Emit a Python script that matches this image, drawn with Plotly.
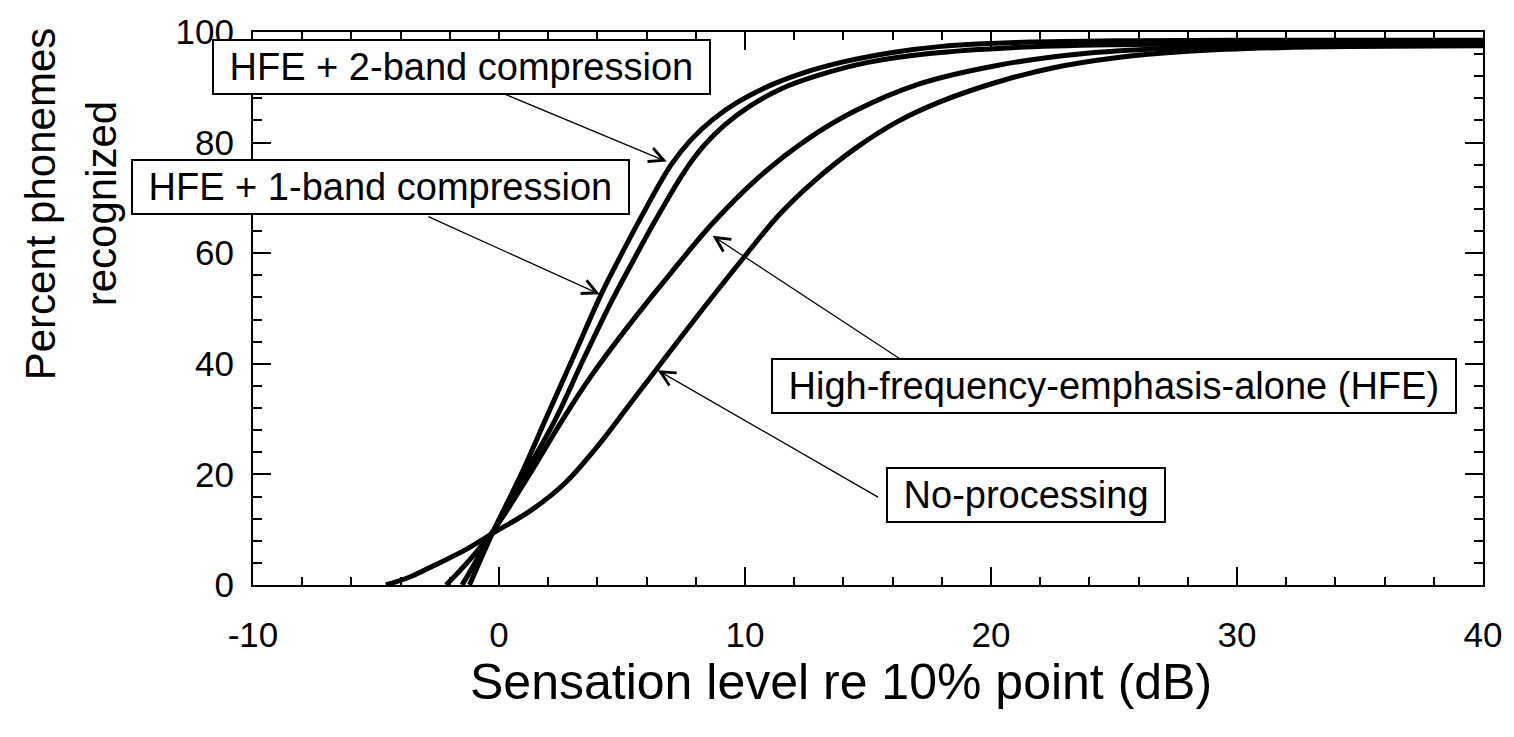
import plotly.graph_objects as go

# ---- data ----
x_2band = [-1.2, -0.2, 0.9, 1.9, 3.0, 4.2, 5.0, 5.8, 7.0, 7.8, 8.7, 9.7, 11.0, 12.5, 14.0, 16.0, 18.0, 21.0, 25.0, 30.0, 40.0]
y_2band = [0.0, 10.0, 20.0, 30.0, 41.0, 53.0, 60.0, 66.7, 76.0, 80.5, 84.2, 87.3, 90.3, 92.8, 94.6, 96.3, 97.4, 98.1, 98.4, 98.5, 98.5]

x_1band = [-1.5, -0.2, 1.05, 2.3, 3.4, 4.6, 5.5, 6.3, 7.5, 8.3, 9.2, 10.2, 11.5, 13.0, 15.0, 17.5, 21.0, 25.0, 30.0, 40.0]
y_1band = [0.0, 10.0, 20.0, 30.0, 40.5, 51.5, 59.0, 65.5, 74.5, 79.3, 83.3, 86.6, 89.8, 92.2, 94.5, 96.1, 97.2, 97.7, 97.9, 98.0]

x_hfe = [-2.15, -1.2, -0.2, 1.1, 2.6, 3.7, 5.2, 7.0, 8.7, 10.5, 12.5, 14.5, 17.0, 20.3, 24.0, 28.0, 32.0, 40.0]
y_hfe = [0.0, 4.5, 10.0, 19.0, 30.0, 37.5, 46.5, 56.5, 65.5, 73.5, 80.5, 85.8, 90.5, 94.0, 96.2, 97.2, 97.6, 97.8]

x_nop = [-4.6, -3.6, -2.7, -1.35, -0.2, 1.3, 2.7, 3.9, 5.2, 6.45, 8.3, 10.0, 11.4, 12.8, 14.5, 16.2, 18.0, 20.3, 22.5, 25.0, 28.0, 32.0, 40.0]
y_nop = [0.0, 1.5, 3.4, 6.4, 9.5, 13.5, 18.5, 24.5, 32.0, 39.3, 50.0, 59.5, 67.0, 73.0, 79.0, 83.8, 87.5, 91.0, 93.5, 95.3, 96.5, 97.2, 97.5]

x_tickvals = [-10, 0, 10, 20, 30, 40]
x_ticktext = ["-10", "0", "10", "20", "30", "40"]
y_tickvals = [0, 20, 40, 60, 80, 100]

labels = ["HFE + 2-band compression", "HFE + 1-band compression",
          "High-frequency-emphasis-alone (HFE)", "No-processing"]

# ---- figure ----
fig = go.Figure()
for xs, ys in [(x_2band, y_2band), (x_1band, y_1band), (x_hfe, y_hfe), (x_nop, y_nop)]:
    fig.add_trace(go.Scatter(x=xs, y=ys, mode="lines",
                             line=dict(color="black", width=5, shape="spline", smoothing=1.0),
                             showlegend=False, hoverinfo="skip", cliponaxis=False))

L, R, T, B = 253, 30, 26, 152
W, H = 1514, 737
pw, ph = W - L - R, H - T - B

def px2x(px):
    return -10 + (px - L) / pw * 50

def py2y(py):
    return (H - B - py) / ph * 100

def ppx(px):
    return (px - L) / pw

def ppy(py):
    return (H - B - py) / ph

FONT = "Liberation Sans, Arial, Helvetica, sans-serif"

fig.update_layout(
    width=W, height=H, margin=dict(l=L, r=R, t=T, b=B),
    paper_bgcolor="white", plot_bgcolor="white", showlegend=False,
    font=dict(family=FONT, color="black"),
)
fig.update_xaxes(range=[-10, 40], tickvals=x_tickvals, ticktext=x_ticktext, ticks="inside", ticklen=18, tickwidth=2,
                 tickcolor="black",
                 minor=dict(dtick=2, ticks="inside", ticklen=8, tickwidth=2, tickcolor="black"),
                 showline=True, linewidth=2, linecolor="black", mirror="ticks", showgrid=False, zeroline=False,
                 tickfont=dict(family=FONT, size=35), ticklabelstandoff=18)
fig.update_yaxes(range=[0, 100], tickvals=y_tickvals, ticks="inside", ticklen=18, tickwidth=2, tickcolor="black",
                 minor=dict(dtick=4, ticks="inside", ticklen=9, tickwidth=2, tickcolor="black"),
                 showline=True, linewidth=2, linecolor="black", mirror="ticks", showgrid=False, zeroline=False,
                 tickfont=dict(family=FONT, size=35), ticklabelstandoff=10)

# axis titles
fig.add_annotation(text="Sensation level re 10% point (dB)", xref="paper", yref="paper",
                   x=ppx(841), y=ppy(683), xanchor="center", yanchor="middle", showarrow=False,
                   font=dict(family=FONT, size=50))
fig.add_annotation(text="Percent phonemes", xref="paper", yref="paper",
                   x=ppx(40), y=ppy(200), xanchor="center", yanchor="middle", showarrow=False, textangle=-90,
                   font=dict(family=FONT, size=42))
fig.add_annotation(text="recognized", xref="paper", yref="paper",
                   x=ppx(101), y=ppy(200), xanchor="center", yanchor="middle", showarrow=False, textangle=-90,
                   font=dict(family=FONT, size=42))

# label boxes (centre px positions)
boxes = [(labels[0], 462, 61), (labels[1], 381, 183), (labels[2], 1115, 384), (labels[3], 1027, 494)]
for txt, cx, cy in boxes:
    fig.add_annotation(text="&nbsp;" + txt + "&nbsp;", xref="paper", yref="paper", x=ppx(cx), y=ppy(cy),
                       xanchor="center", yanchor="middle",
                       showarrow=False, bgcolor="white", bordercolor="black", borderwidth=2, borderpad=5,
                       font=dict(family=FONT, size=38))

# arrows (tail px -> tip px)
arrows = [((503, 88), (667, 157)), ((427, 212), (600, 291)), ((903, 358), (713, 232)), ((880, 497), (658, 368))]
for (tx, ty), (hx, hy) in arrows:
    fig.add_annotation(text="", x=px2x(hx), y=py2y(hy), ax=px2x(tx), ay=py2y(ty), xref="x", yref="y",
                       axref="x", ayref="y", showarrow=True, arrowhead=5, arrowsize=2.2, arrowwidth=1.3,
                       arrowcolor="black", standoff=0)

fig.write_html("out.html")
